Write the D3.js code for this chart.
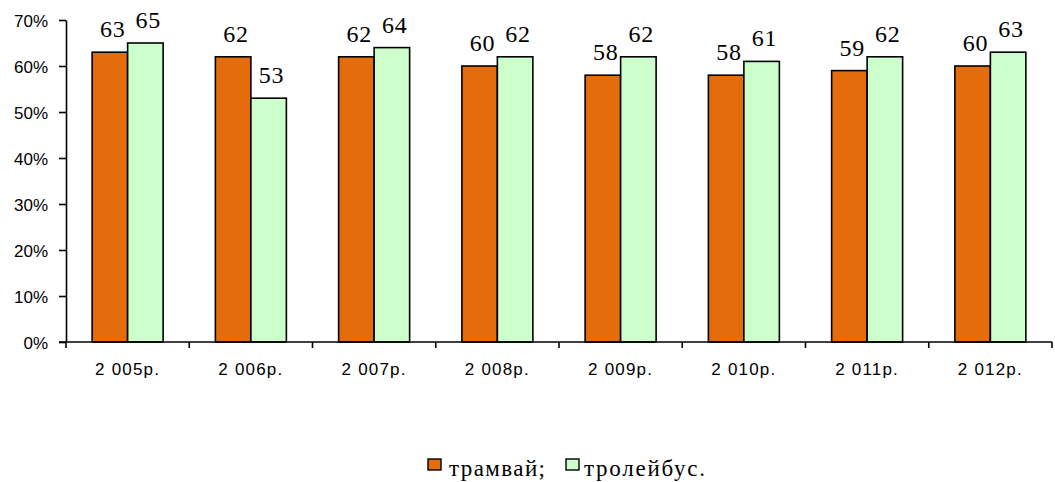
<!DOCTYPE html>
<html>
<head>
<meta charset="utf-8">
<script src="https://cdn.jsdelivr.net/npm/d3@7/dist/d3.min.js"></script>
<style>
  html, body { margin: 0; padding: 0; background: #fff; }
  svg { display: block; }
</style>
</head>
<body>
<script>
// Share of fleet, % by year: tram vs trolleybus
const years = ["2 005р.", "2 006р.", "2 007р.", "2 008р.", "2 009р.", "2 010р.", "2 011р.", "2 012р."];
const tram = [63, 62, 62, 60, 58, 58, 59, 60];
const trolley = [65, 53, 64, 62, 62, 61, 62, 63];
const seriesNames = ["трамвай;", "тролейбус."];
const seriesColors = ["#E46C0A", "#CCFFCC"];
const yTicks = [0, 10, 20, 30, 40, 50, 60, 70];

const W = 1055, H = 482;
const svg = d3.select("body").append("svg").attr("width", W).attr("height", H);

const x = d3.scaleBand().domain(years).range([66, 1052]).padding(0);
const y = d3.scaleLinear().domain([0, 70]).range([342, 20]);

const barW = x.bandwidth() * 0.288;
const series = [tram, trolley];
const serif = "'Liberation Serif', 'Times New Roman', Times, serif";
const sans = "'Liberation Sans', Arial, Helvetica, sans-serif";

// Bars
series.forEach((vals, si) => {
  svg.append("g").selectAll("rect").data(vals).join("rect")
    .attr("x", (d, i) => x(years[i]) + x.bandwidth() / 2 - barW + si * barW)
    .attr("y", d => y(d))
    .attr("width", barW)
    .attr("height", d => y(0) - y(d))
    .attr("fill", seriesColors[si])
    .attr("stroke", "#000")
    .attr("stroke-width", 1.6);
});

// Value labels
series.forEach((vals, si) => {
  svg.append("g").selectAll("text").data(vals).join("text")
    .attr("x", (d, i) => x(years[i]) + x.bandwidth() / 2 - barW / 2 + si * barW + 3)
    .attr("y", d => y(d) - 15)
    .attr("text-anchor", "middle")
    .attr("font-family", serif)
    .attr("font-size", 24)
    .attr("letter-spacing", 0.8)
    .attr("fill", "#000")
    .text(d => d);
});

// Y axis
const yAxis = svg.append("g")
  .attr("transform", "translate(66,0)")
  .call(d3.axisLeft(y).tickValues(yTicks).tickFormat(d => d + "%").tickSize(7).tickSizeOuter(0));
yAxis.select(".domain").attr("stroke", "#000").attr("stroke-width", 1.6);
yAxis.selectAll(".tick line").attr("stroke", "#000").attr("stroke-width", 1.6);
yAxis.selectAll(".tick text")
  .attr("x", -18)
  .attr("dy", "0.36em")
  .attr("font-family", sans)
  .attr("font-size", 17)
  .attr("fill", "#000");

// X axis
const xAxis = svg.append("g")
  .attr("transform", "translate(0,342)");
xAxis.append("line")
  .attr("x1", 59).attr("x2", 1052)
  .attr("stroke", "#000").attr("stroke-width", 1.6);
const bounds = years.map(d => x(d)).concat([x.range()[1]]);
xAxis.selectAll("line.tk").data(bounds).join("line")
  .attr("class", "tk")
  .attr("x1", d => d).attr("x2", d => d)
  .attr("y1", 0).attr("y2", 6)
  .attr("stroke", "#000").attr("stroke-width", 1.6);
xAxis.selectAll("text").data(years).join("text")
  .attr("x", d => x(d) + x.bandwidth() / 2)
  .attr("y", 33)
  .attr("text-anchor", "middle")
  .attr("font-family", sans)
  .attr("font-size", 17)
  .attr("letter-spacing", 1.2)
  .attr("fill", "#000")
  .text(d => d);

// Legend
const legendItems = [
  { name: seriesNames[0], color: seriesColors[0], sx: 428, tx: 449, w: 96 },
  { name: seriesNames[1], color: seriesColors[1], sx: 566, tx: 584, w: 121 }
];
const lg = svg.append("g");
legendItems.forEach(it => {
  lg.append("rect")
    .attr("x", it.sx).attr("y", 459)
    .attr("width", 13).attr("height", 11)
    .attr("fill", it.color)
    .attr("stroke", "#000").attr("stroke-width", 1.4);
  lg.append("text")
    .attr("x", it.tx).attr("y", 476)
    .attr("font-family", serif)
    .attr("font-size", 23)
    .attr("textLength", it.w)
    .attr("lengthAdjust", "spacing")
    .attr("fill", "#000")
    .text(it.name);
});
</script>
</body>
</html>
